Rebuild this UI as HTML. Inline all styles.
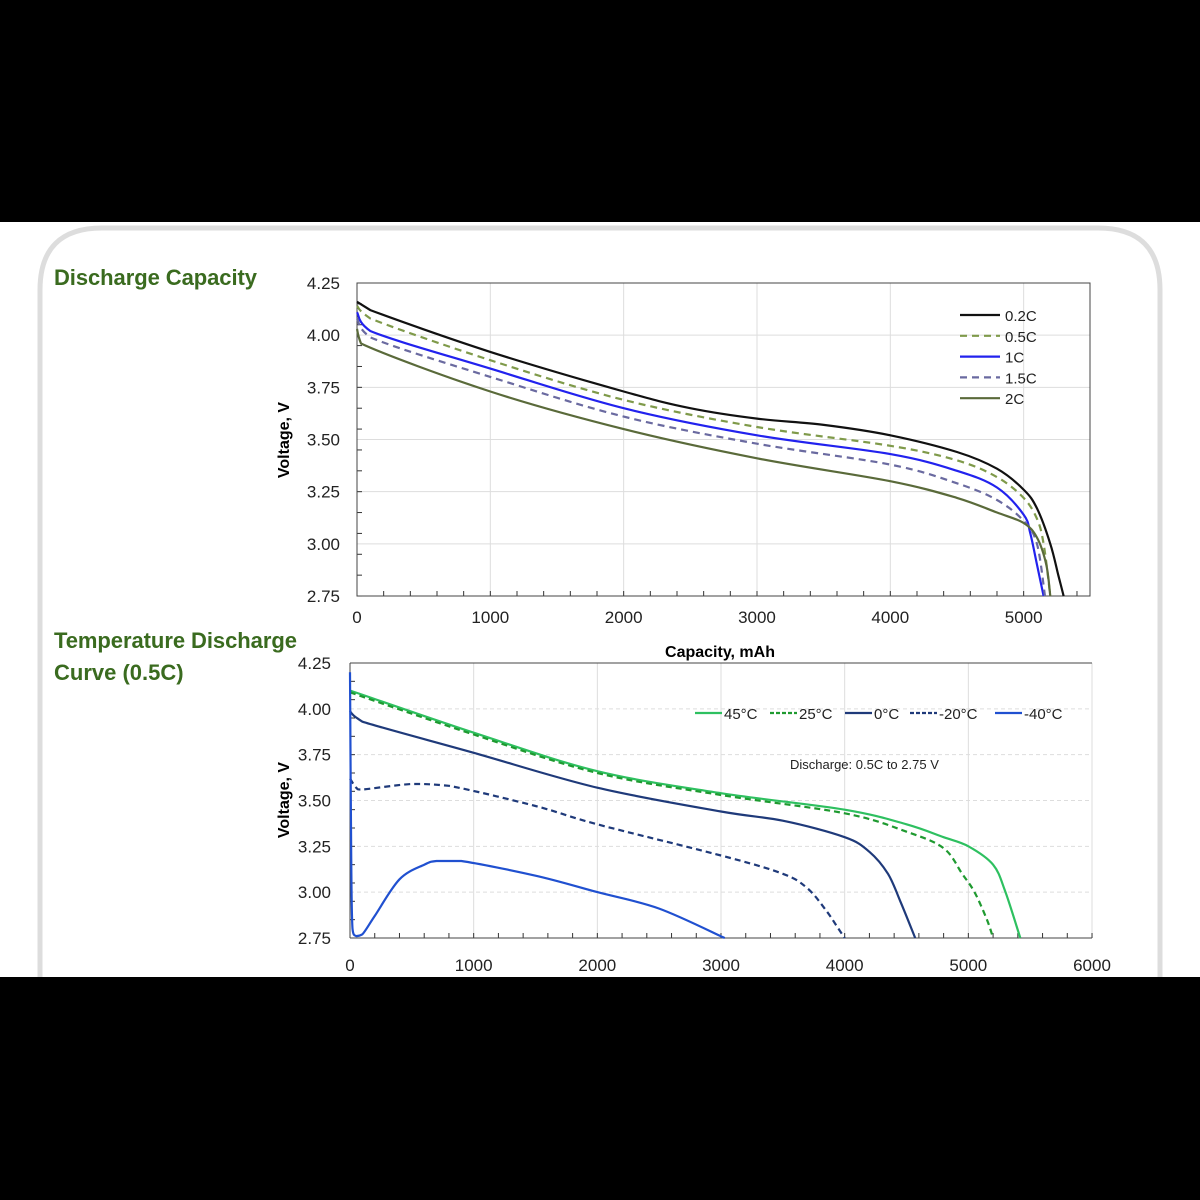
<!DOCTYPE html>
<html><head><meta charset="utf-8"><style>
body{margin:0;width:1200px;height:1200px;background:#000;overflow:hidden;font-family:"Liberation Sans",Arial,sans-serif}
svg{position:absolute;left:0;top:0}
</style></head><body>
<svg id="s" width="1200" height="1200" xmlns="http://www.w3.org/2000/svg" font-family="Liberation Sans, Arial, sans-serif">
<rect x="0" y="222" width="1200" height="755" fill="#fff"/>
<path d="M40 977 V290 Q40 228 102 228 H1098 Q1160 228 1160 290 V977" fill="none" stroke="#ddd" stroke-width="5"/>
<text x="54" y="285" font-size="22" font-weight="bold" fill="#3a6b1f" textLength="203">Discharge Capacity</text>
<text x="54" y="648" font-size="22" font-weight="bold" fill="#3a6b1f" textLength="243">Temperature Discharge</text>
<text x="54" y="680" font-size="22" font-weight="bold" fill="#3a6b1f">Curve (0.5C)</text>
<g id="g"></g>
</svg>
<script>
const g=document.getElementById('g');let h='';
const cl=(v,a,b)=>Math.min(Math.max(v,Math.min(a,b)),Math.max(a,b));
function P(pts,fx,fy){let p=pts.map(a=>[fx(a[0]),fy(a[1])]);let d='M'+p[0][0].toFixed(1)+' '+p[0][1].toFixed(1);
for(let i=0;i<p.length-1;i++){const a=p[i-1]||p[i],b=p[i],c=p[i+1],e=p[i+2]||c;
const x1=cl(b[0]+(c[0]-a[0])/6,b[0],c[0]),y1=cl(b[1]+(c[1]-a[1])/6,b[1],c[1]),x2=cl(c[0]-(e[0]-b[0])/6,b[0],c[0]),y2=cl(c[1]-(e[1]-b[1])/6,b[1],c[1]);
d+=' C'+x1.toFixed(1)+' '+y1.toFixed(1)+' '+x2.toFixed(1)+' '+y2.toFixed(1)+' '+c[0].toFixed(1)+' '+c[1].toFixed(1);}return d;}
// top chart
const tx=v=>357+v*0.13333,ty=v=>283+(4.25-v)/0.25*52.17;
for(let i=0;i<=5;i++){const x=tx(i*1000);if(i>0)h+=`<line x1="${x}" y1="283" x2="${x}" y2="596" stroke="#ddd"/>`;h+=`<text x="${x}" y="623" font-size="17" text-anchor="middle" fill="#222">${i*1000}</text>`;}
for(let i=0;i<=6;i++){const v=2.75+i*0.25,y=ty(v);if(i>0&&i<6)h+=`<line x1="357" y1="${y}" x2="1090" y2="${y}" stroke="#ddd"/>`;h+=`<text x="340" y="${y+6}" font-size="17" text-anchor="end" fill="#222">${v.toFixed(2)}</text>`;}
for(let i=0;i<=27;i++){const x=tx(i*200);h+=`<line x1="${x}" y1="596" x2="${x}" y2="591" stroke="#333"/>`;}
for(let i=0;i<=15;i++){const y=ty(2.75+i*0.1);h+=`<line x1="357" y1="${y}" x2="362" y2="${y}" stroke="#333"/>`;}
h+=`<rect x="357" y="283" width="733" height="313" fill="none" stroke="#444" stroke-width="1"/>`;
h+=`<text x="720" y="657" font-size="16" font-weight="bold" text-anchor="middle">Capacity, mAh</text>`;
h+=`<text transform="translate(289,440) rotate(-90)" font-size="16" font-weight="bold" text-anchor="middle">Voltage, V</text>`;
const T=[
["#111","",[[0,4.16],[100,4.12],[1000,3.92],[2000,3.73],[2500,3.65],[3000,3.6],[3500,3.57],[4000,3.52],[4500,3.44],[4800,3.36],[5000,3.26],[5100,3.17],[5200,3.0],[5260,2.85],[5300,2.75]]],
["#7f9a4a","7 5",[[0,4.14],[100,4.08],[1000,3.88],[2000,3.69],[3000,3.56],[4000,3.47],[4500,3.4],[4800,3.32],[5000,3.22],[5100,3.12],[5150,3.0],[5200,2.75]]],
["#2222ee","",[[0,4.11],[100,4.02],[1000,3.84],[2000,3.65],[3000,3.52],[4000,3.43],[4500,3.35],[4800,3.27],[5000,3.14],[5050,3.05],[5100,2.9],[5150,2.75]]],
["#6a6aa0","7 5",[[0,4.08],[100,3.99],[1000,3.8],[2000,3.61],[3000,3.48],[4000,3.38],[4500,3.29],[4800,3.21],[5000,3.11],[5100,3.0],[5160,2.75]]],
["#5a6a3a","",[[0,4.03],[30,3.96],[1000,3.73],[2000,3.55],[3000,3.41],[4000,3.3],[4500,3.22],[4800,3.15],[5000,3.1],[5100,3.03],[5170,2.9],[5200,2.75]]]];
const TL=["0.2C","0.5C","1C","1.5C","2C"];
T.forEach((c,i)=>{h+=`<path d="${P(c[2],tx,ty)}" fill="none" stroke="${c[0]}" stroke-width="2.2" stroke-dasharray="${c[1]}"/>`;
const y=315+i*20.8;h+=`<line x1="960" y1="${y}" x2="1000" y2="${y}" stroke="${c[0]}" stroke-width="2.2" stroke-dasharray="${c[1]}"/><text x="1005" y="${y+6}" font-size="15" fill="#222">${TL[i]}</text>`;});
// bottom chart
const bx=v=>350+v*0.12367,by=v=>663+(4.25-v)/0.25*45.83;
for(let i=0;i<=6;i++){const x=bx(i*1000);if(i>0)h+=`<line x1="${x}" y1="663" x2="${x}" y2="938" stroke="#ddd"/>`;h+=`<text x="${x}" y="971" font-size="17" text-anchor="middle" fill="#222">${i*1000}</text>`;}
for(let i=0;i<=6;i++){const v=2.75+i*0.25,y=by(v);if(i>0&&i<6)h+=`<line x1="350" y1="${y}" x2="1092" y2="${y}" stroke="#ddd" stroke-dasharray="4 3"/>`;h+=`<text x="331" y="${y+6}" font-size="17" text-anchor="end" fill="#222">${v.toFixed(2)}</text>`;}
for(let i=0;i<=30;i++){const x=bx(i*200);h+=`<line x1="${x}" y1="938" x2="${x}" y2="933" stroke="#333"/>`;}
for(let i=0;i<=15;i++){const y=by(2.75+i*0.1);h+=`<line x1="350" y1="${y}" x2="355" y2="${y}" stroke="#333"/>`;}
h+=`<line x1="350" y1="663" x2="1092" y2="663" stroke="#444"/><line x1="350" y1="663" x2="350" y2="938" stroke="#444"/><line x1="350" y1="938" x2="1092" y2="938" stroke="#444"/>`;
h+=`<text transform="translate(289,800) rotate(-90)" font-size="16" font-weight="bold" text-anchor="middle">Voltage, V</text>`;
h+=`<text x="790" y="769" font-size="13" fill="#222">Discharge: 0.5C to 2.75 V</text>`;
const B=[
["#2ec060","",[[0,4.1],[1000,3.87],[2000,3.66],[3000,3.54],[4000,3.45],[4500,3.37],[4800,3.3],[5000,3.25],[5200,3.15],[5300,3.0],[5420,2.75]]],
["#1f9a30","6 4",[[0,4.09],[1000,3.86],[2000,3.65],[3000,3.53],[4000,3.43],[4500,3.33],[4800,3.24],[4950,3.1],[5050,3.0],[5150,2.85],[5200,2.75]]],
["#1f3a7a","",[[0,3.99],[20,3.97],[100,3.93],[1000,3.76],[2000,3.57],[3000,3.44],[3500,3.39],[4000,3.3],[4200,3.22],[4350,3.1],[4450,2.95],[4570,2.75]]],
["#1f3a7a","6 4",[[0,3.62],[50,3.57],[100,3.56],[500,3.59],[800,3.58],[1500,3.47],[2000,3.37],[3000,3.2],[3500,3.1],[3700,3.02],[3850,2.9],[3950,2.8],[4000,2.75]]],
["#2050d0","",[[0,4.2],[10,3.2],[20,2.8],[50,2.76],[100,2.77],[200,2.87],[400,3.07],[600,3.15],[700,3.17],[900,3.17],[1500,3.09],[2000,3.0],[2500,2.91],[3030,2.75]]]];
const BL=["45°C","25°C","0°C","-20°C","-40°C"],LX=[695,770,845,910,995];
B.forEach((c,i)=>{h+=`<path d="${P(c[2],bx,by)}" fill="none" stroke="${c[0]}" stroke-width="2.2" stroke-dasharray="${c[1]}"/>`;
const x=LX[i];h+=`<line x1="${x}" y1="713" x2="${x+27}" y2="713" stroke="${c[0]}" stroke-width="2.2" stroke-dasharray="${c[1]?'4 2':''}"/><text x="${x+29}" y="719" font-size="15" fill="#222">${BL[i]}</text>`;});
g.innerHTML=h;
</script>
</body></html>
